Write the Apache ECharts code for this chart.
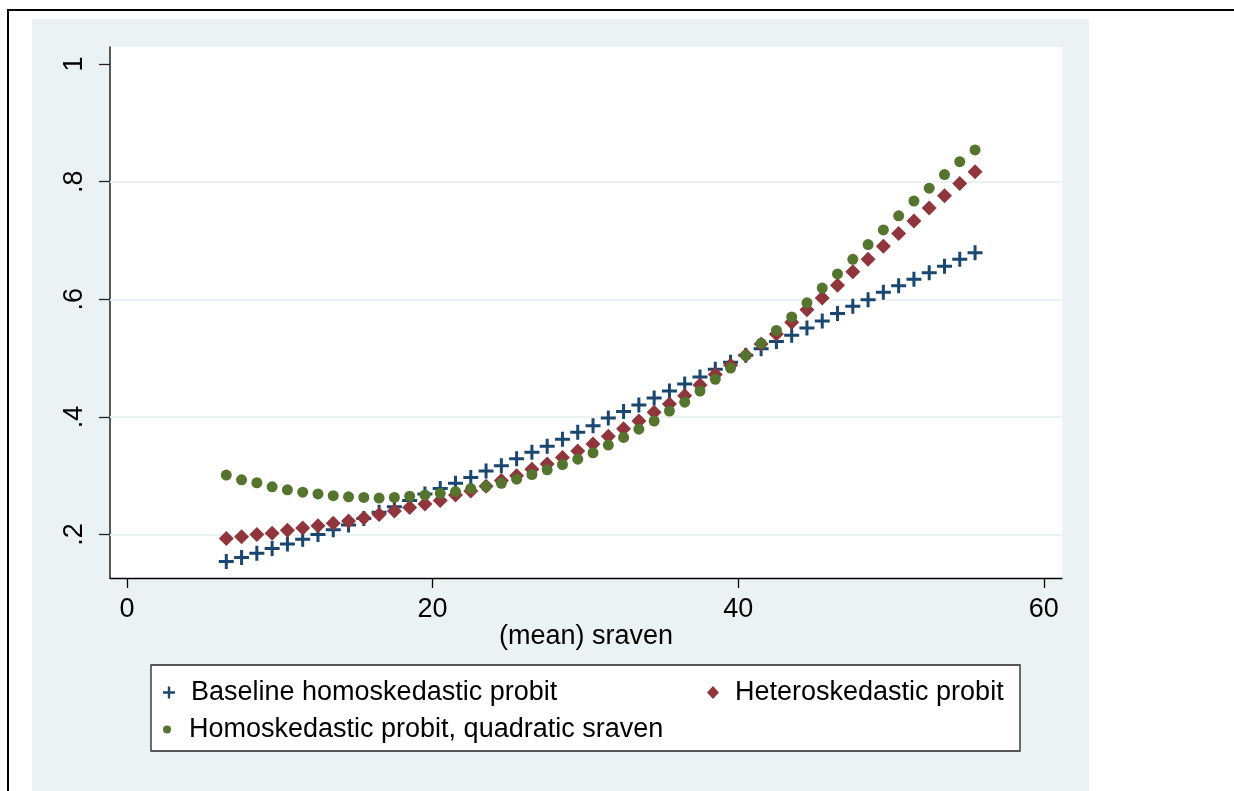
<!DOCTYPE html>
<html>
<head>
<meta charset="utf-8">
<script src="https://cdn.jsdelivr.net/npm/echarts@6/dist/echarts.min.js"></script>
<style>
  html, body { margin: 0; padding: 0; background: #fff; }
  #chart { width: 1234px; height: 791px; }
</style>
</head>
<body>
<div id="chart"></div>
<script>
// values, one per sraven value
const sraven = [6.5, 7.5, 8.5, 9.5, 10.5, 11.5, 12.5, 13.5, 14.5, 15.5,
  16.5, 17.5, 18.5, 19.5, 20.5, 21.5, 22.5, 23.5, 24.5, 25.5,
  26.5, 27.5, 28.5, 29.5, 30.5, 31.5, 32.5, 33.5, 34.5, 35.5,
  36.5, 37.5, 38.5, 39.5, 40.5, 41.5, 42.5, 43.5, 44.5, 45.5,
  46.5, 47.5, 48.5, 49.5, 50.5, 51.5, 52.5, 53.5, 54.5, 55.5];

const baseline = [0.154, 0.161, 0.168, 0.176, 0.184, 0.192, 0.200, 0.208, 0.216, 0.227,
  0.238, 0.247, 0.258, 0.269, 0.278, 0.287, 0.297, 0.308, 0.317, 0.329,
  0.340, 0.350, 0.362, 0.374, 0.385, 0.398, 0.409, 0.420, 0.432, 0.444,
  0.456, 0.468, 0.481, 0.493, 0.505, 0.516, 0.528, 0.539, 0.551, 0.563,
  0.576, 0.588, 0.599, 0.612, 0.623, 0.634, 0.645, 0.656, 0.668, 0.679];

const hetero = [0.193, 0.196, 0.200, 0.202, 0.207, 0.211, 0.215, 0.219, 0.223, 0.228,
  0.234, 0.240, 0.246, 0.252, 0.258, 0.267, 0.274, 0.282, 0.292, 0.300,
  0.311, 0.320, 0.331, 0.342, 0.354, 0.367, 0.380, 0.393, 0.408, 0.422,
  0.436, 0.454, 0.472, 0.488, 0.505, 0.524, 0.541, 0.561, 0.582, 0.602,
  0.624, 0.647, 0.668, 0.690, 0.712, 0.733, 0.755, 0.776, 0.797, 0.817];

const quadratic = [0.301, 0.293, 0.288, 0.281, 0.276, 0.272, 0.269, 0.266, 0.264, 0.263,
  0.262, 0.263, 0.265, 0.267, 0.270, 0.273, 0.278, 0.282, 0.287, 0.294,
  0.302, 0.310, 0.319, 0.328, 0.339, 0.352, 0.365, 0.379, 0.393, 0.410,
  0.425, 0.444, 0.464, 0.483, 0.504, 0.525, 0.547, 0.570, 0.594, 0.619,
  0.643, 0.668, 0.693, 0.718, 0.742, 0.767, 0.789, 0.812, 0.834, 0.854];

const names = [
  "Baseline homoskedastic probit",
  "Heteroskedastic probit",
  "Homoskedastic probit, quadratic sraven",
];
const xTicks = [0, 20, 40, 60];
const yTicks = [0.2, 0.4, 0.6, 0.8, 1];
const gridValues = [0.2, 0.4, 0.6, 0.8];

const font = "'Liberation Sans', Arial, sans-serif";
const plus = "path://M4,0H6V4H10V6H6V10H4V6H0V4H4Z";

function pairs(ys) {
  return sraven.map(function (x, i) {
    return [x, ys[i]];
  });
}

var chart = echarts.init(document.getElementById("chart"));

var legendText = {
  fontSize: 27,
  color: "#000",
  fontFamily: font,
  padding: [0, 0, 0, 11],
};

option = {
  animation: false,
  backgroundColor: "#fff",
  textStyle: { fontFamily: font },
  graphic: [
    {
      type: "rect",
      z: -10,
      silent: true,
      shape: { x: 32, y: 19, width: 1057, height: 800 },
      style: { fill: "#EAF2F3" },
    },
    {
      type: "rect",
      z: 100,
      silent: true,
      shape: { x: 8, y: 10, width: 1400, height: 1000 },
      style: { fill: null, stroke: "#000", lineWidth: 2 },
    },
    {
      type: "rect",
      z: -5,
      silent: true,
      shape: { x: 151, y: 665, width: 869, height: 86 },
      style: { fill: "#fff", stroke: "#222", lineWidth: 1.3 },
    },
  ],
  grid: {
    left: 110,
    top: 47,
    right: 172,
    bottom: 213,
    show: true,
    backgroundColor: "#fff",
    borderWidth: 0,
  },
  legend: [
    {
      data: [names[0]],
      left: 163,
      top: 679,
      padding: 0,
      itemWidth: 12,
      itemHeight: 13,
      textStyle: legendText,
    },
    {
      data: [names[1]],
      left: 707,
      top: 679,
      padding: 0,
      itemWidth: 12,
      itemHeight: 13,
      textStyle: legendText,
    },
    {
      data: [names[2]],
      left: 163,
      top: 716,
      padding: 0,
      itemWidth: 12,
      itemHeight: 8,
      textStyle: legendText,
    },
  ],
  xAxis: {
    type: "value",
    min: -1.11,
    max: 61.19,
    name: "(mean) sraven",
    nameLocation: "middle",
    nameGap: 45,
    nameMoveOverlap: false,
    nameTextStyle: { fontSize: 27, color: "#000", fontFamily: font },
    axisLine: { show: true, onZero: false, lineStyle: { color: "#000", width: 1.3 } },
    axisTick: {
      show: true,
      length: 10,
      customValues: xTicks,
      lineStyle: { color: "#000", width: 1.3 },
    },
    axisLabel: {
      customValues: xTicks,
      fontSize: 27,
      color: "#000",
      margin: 18,
      fontFamily: font,
    },
    splitLine: { show: false },
  },
  yAxis: {
    type: "value",
    min: 0.126,
    max: 1.029,
    axisLine: { show: true, onZero: false, lineStyle: { color: "#222", width: 1.5 } },
    axisTick: {
      show: true,
      length: 11,
      customValues: yTicks,
      lineStyle: { color: "#222", width: 1.3 },
    },
    axisLabel: {
      customValues: yTicks,
      rotate: 90,
      fontSize: 27,
      color: "#000",
      margin: 22,
      fontFamily: font,
      formatter: function (v) {
        return v >= 1 ? "1" : v.toFixed(1).replace(/^0/, "");
      },
    },
    splitLine: { show: false },
  },
  series: [
    {
      name: names[0],
      type: "scatter",
      data: pairs(baseline),
      symbol: plus,
      symbolSize: 15,
      itemStyle: { color: "#1A476F", opacity: 1 },
      z: 2,
      markLine: {
        silent: true,
        z: 1,
        symbol: "none",
        label: { show: false },
        lineStyle: { color: "#EAF2F3", width: 2, type: "solid" },
        data: gridValues.map(function (v) {
          return { yAxis: v };
        }),
      },
    },
    {
      name: names[1],
      type: "scatter",
      data: pairs(hetero),
      symbol: "diamond",
      symbolSize: 15,
      itemStyle: { color: "#90353B", opacity: 1 },
      z: 3,
    },
    {
      name: names[2],
      type: "scatter",
      data: pairs(quadratic),
      symbol: "circle",
      symbolSize: 11,
      itemStyle: { color: "#55752F", opacity: 1 },
      z: 4,
    },
  ],
};

chart.setOption(option);
</script>
</body>
</html>
